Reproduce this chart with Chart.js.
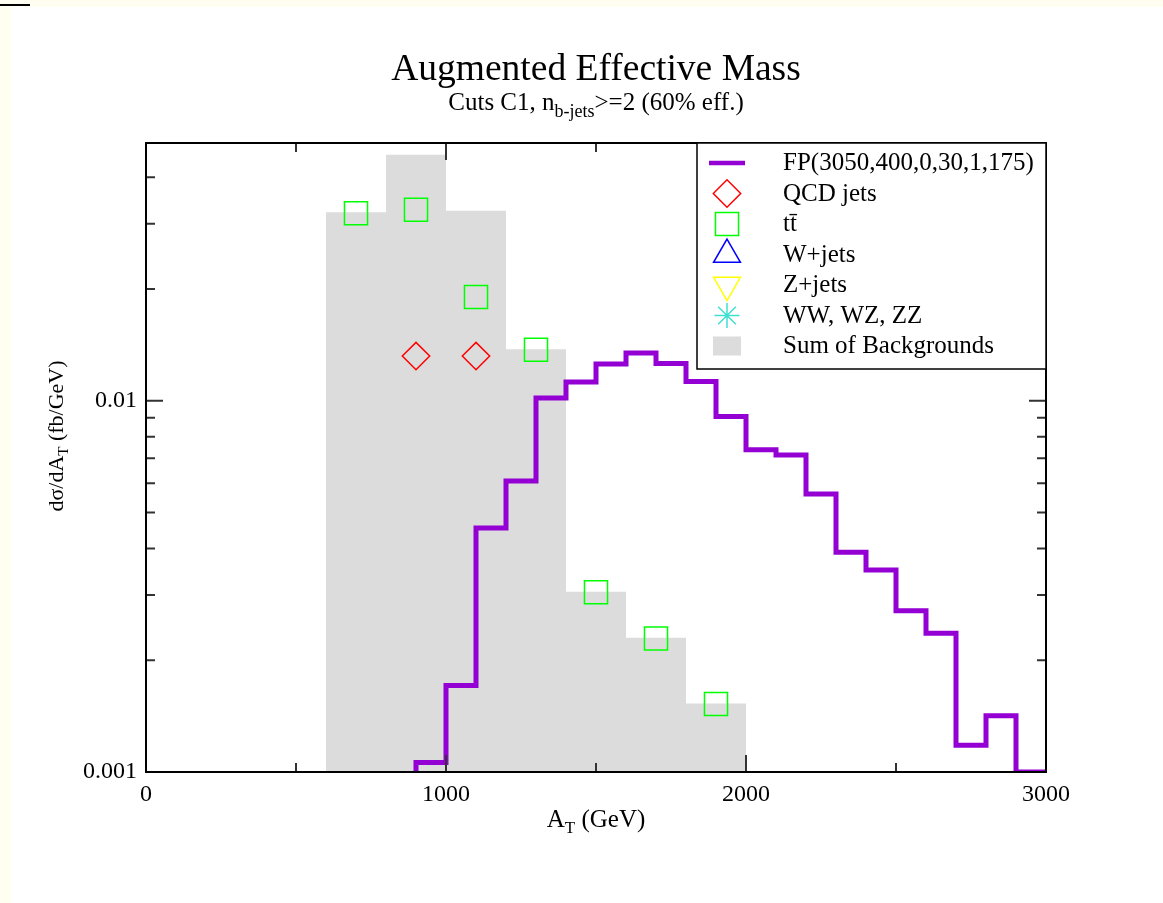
<!DOCTYPE html>
<html lang="en">
  <head>
    <meta charset="UTF-8" />
    <title>Augmented Effective Mass</title>
    <script src="https://cdn.jsdelivr.net/npm/chart.js"></script>
    <style>
      html,
      body {
        margin: 0;
        padding: 0;
      }
      body {
        width: 1163px;
        height: 903px;
        position: relative;
        overflow: hidden;
        background: #fffef0;
      }
      .sheet {
        position: absolute;
        left: 11px;
        top: 7px;
        right: 0;
        bottom: 0;
        background: #fff;
      }
      .mark {
        position: absolute;
        left: 0;
        top: 4px;
        width: 30px;
        height: 2px;
        background: #000;
      }
      canvas {
        position: absolute;
        left: 0;
        top: 0;
      }
    </style>
  </head>

  <body>
    <div class="sheet"></div>
    <div class="mark"></div>
    <canvas id="chart" width="1163" height="903"></canvas>

    <script>
      const titleText = "Augmented Effective Mass";
      const subtitleParts = ["Cuts C1, n", "b-jets", ">=2 (60% eff.)"];
      const xTitleParts = ["A", "T", " (GeV)"];
      const yTitleParts = ["dσ/dA", "T", " (fb/GeV)"];

      // signal, 100 GeV bins (left edges)
      const sigBinLow = [900, 1000, 1100, 1200, 1300, 1400, 1500, 1600, 1700, 1800, 1900,
        2000, 2100, 2200, 2300, 2400, 2500, 2600, 2700, 2800, 2900];
      const sigBinHigh = 3000;
      const sigValues = [0.00106, 0.00171, 0.00454, 0.00608, 0.01017, 0.01123, 0.01256,
        0.01345, 0.0126, 0.01127, 0.00907, 0.00738, 0.00715, 0.00561, 0.00391, 0.0035,
        0.00272, 0.002365, 0.00118, 0.001418, 0.001];

      // sum of backgrounds, 200 GeV bins (left edges)
      const bgBinLow = [600, 800, 1000, 1200, 1400, 1600, 1800];
      const bgBinHigh = 2000;
      const bgValues = [0.0322, 0.046, 0.0325, 0.01377, 0.00306, 0.0023, 0.00153];

      const ttMass = [700, 900, 1100, 1300, 1500, 1700, 1900];
      const ttValues = [0.032, 0.0327, 0.01904, 0.01372, 0.00305, 0.002288, 0.001525];

      const qcdMass = [900, 1100];
      const qcdValues = [0.0132, 0.0132];

      const xLabels = [0, 1000, 2000, 3000];
      const yLabels = ["0.001", "0.01"];

      const serif = '"Liberation Serif", "DejaVu Serif", serif';

      function stepPoints(lows, high, values, floor) {
        const pts = [];
        if (floor !== undefined) pts.push({ x: lows[0], y: floor });
        lows.forEach((x, i) => pts.push({ x: x, y: values[i] }));
        pts.push({ x: high, y: values[values.length - 1] });
        return pts;
      }

      const toPoints = (xs, ys) => xs.map((x, i) => ({ x: x, y: ys[i] }));

      function drawParts(ctx, parts, x, y, size, subSize, subDrop) {
        const widths = parts.map((p, i) => {
          ctx.font = (i === 1 ? subSize : size) + "px " + serif;
          return ctx.measureText(p).width;
        });
        let cx = x - widths.reduce((a, b) => a + b, 0) / 2;
        parts.forEach((p, i) => {
          ctx.font = (i === 1 ? subSize : size) + "px " + serif;
          ctx.fillText(p, cx, i === 1 ? y + subDrop : y);
          cx += widths[i];
        });
      }

      const isDecade = (v) => Math.abs(Math.log10(v) - Math.round(Math.log10(v))) < 1e-6;
      const isWhole = (v) => {
        const m = v / Math.pow(10, Math.floor(Math.log10(v) + 1e-9));
        return Math.abs(m - Math.round(m)) < 1e-6;
      };

      const decor = {
        id: "decor",
        afterDraw(chart) {
          const { ctx, chartArea: a, scales } = chart;
          const x = scales.x;
          const y = scales.y;
          ctx.save();

          // inward ticks on all four sides
          ctx.strokeStyle = "#333";
          ctx.lineWidth = 2;
          ctx.beginPath();
          x.ticks.forEach((t) => {
            const px = x.getPixelForValue(t.value);
            const len = t.value % 1000 === 0 ? 17 : 9;
            ctx.moveTo(px, a.bottom);
            ctx.lineTo(px, a.bottom - len);
            ctx.moveTo(px, a.top);
            ctx.lineTo(px, a.top + len);
          });
          y.ticks.forEach((t) => {
            if (!isWhole(t.value)) return;
            const py = y.getPixelForValue(t.value);
            const len = isDecade(t.value) ? 17 : 9;
            ctx.moveTo(a.left, py);
            ctx.lineTo(a.left + len, py);
            ctx.moveTo(a.right, py);
            ctx.lineTo(a.right - len, py);
          });
          ctx.stroke();

          // frame
          ctx.strokeStyle = "#000";
          ctx.lineWidth = 2;
          ctx.strokeRect(a.left, a.top, a.right - a.left, a.bottom - a.top);

          // legend
          const lx = 697;
          const ly = a.top;
          ctx.fillStyle = "#fff";
          ctx.fillRect(lx, ly, a.right - lx, 226);
          ctx.lineWidth = 1.5;
          ctx.strokeRect(lx, ly, a.right - lx, 226);

          const symX = 727;
          chart.data.datasets.forEach((ds, i) => {
            const base = 170 + i * 30.5;
            const cy = base - 7;
            ctx.save();
            if (ds.legendKind === "line") {
              ctx.strokeStyle = ds.borderColor;
              ctx.lineWidth = 4.5;
              ctx.beginPath();
              ctx.moveTo(symX - 18, cy);
              ctx.lineTo(symX + 18, cy);
              ctx.stroke();
            } else if (ds.legendKind === "box") {
              ctx.fillStyle = ds.backgroundColor;
              ctx.fillRect(symX - 14, cy - 9.5, 28, 19);
            } else {
              ctx.strokeStyle = ds.borderColor;
              ctx.fillStyle = "rgba(0,0,0,0)";
              ctx.lineWidth = ds.borderWidth;
              Chart.helpers.drawPoint(ctx, {
                pointStyle: ds.pointStyle,
                rotation: ds.rotation || 0,
                radius: ds.pointRadius,
                borderWidth: ds.borderWidth,
              }, symX, cy);
            }
            ctx.restore();
            ctx.fillStyle = "#000";
            ctx.font = "25px " + serif;
            ctx.textAlign = "left";
            ctx.textBaseline = "alphabetic";
            ctx.fillText(ds.label, 783, base);
          });

          // titles
          ctx.fillStyle = "#000";
          ctx.textBaseline = "alphabetic";
          const cx = (a.left + a.right) / 2;
          ctx.font = "37.5px " + serif;
          ctx.textAlign = "center";
          ctx.fillText(titleText, cx, 80);
          ctx.textAlign = "left";
          drawParts(ctx, subtitleParts, cx, 110, 25, 18, 7);
          drawParts(ctx, xTitleParts, cx, 827, 25, 17, 6);

          ctx.translate(63, 436);
          ctx.rotate(-Math.PI / 2);
          drawParts(ctx, yTitleParts, 0, 0, 22, 15, 5);
          ctx.restore();
        },
      };

      new Chart(document.getElementById("chart"), {
        type: "scatter",
        data: {
          datasets: [
            {
              label: "FP(3050,400,0,30,1,175)",
              legendKind: "line",
              data: stepPoints(sigBinLow, sigBinHigh, sigValues, 0.001),
              showLine: true,
              stepped: true,
              borderColor: "#9400d3",
              borderWidth: 5,
              pointRadius: 0,
              fill: false,
              order: 2,
            },
            {
              label: "QCD jets",
              data: toPoints(qcdMass, qcdValues),
              pointStyle: "rectRot",
              pointRadius: 13.7,
              borderColor: "#ff0000",
              backgroundColor: "rgba(0,0,0,0)",
              borderWidth: 1.5,
              order: 1,
            },
            {
              label: "tt\u0304",
              data: toPoints(ttMass, ttValues),
              pointStyle: "rect",
              pointRadius: 16.3,
              borderColor: "#00ff00",
              backgroundColor: "rgba(0,0,0,0)",
              borderWidth: 1.5,
              order: 1,
            },
            {
              label: "W+jets",
              data: [],
              pointStyle: "triangle",
              pointRadius: 15.5,
              borderColor: "#0000ff",
              backgroundColor: "rgba(0,0,0,0)",
              borderWidth: 1.5,
              order: 1,
            },
            {
              label: "Z+jets",
              data: [],
              pointStyle: "triangle",
              rotation: 180,
              pointRadius: 15.5,
              borderColor: "#ffff00",
              backgroundColor: "rgba(0,0,0,0)",
              borderWidth: 1.5,
              order: 1,
            },
            {
              label: "WW, WZ, ZZ",
              data: [],
              pointStyle: "star",
              pointRadius: 12.5,
              borderColor: "#40e0d0",
              backgroundColor: "rgba(0,0,0,0)",
              borderWidth: 1.5,
              order: 1,
            },
            {
              label: "Sum of Backgrounds",
              legendKind: "box",
              data: stepPoints(bgBinLow, bgBinHigh, bgValues),
              showLine: true,
              stepped: true,
              borderWidth: 0,
              borderColor: "rgba(0,0,0,0)",
              backgroundColor: "#dcdcdc",
              pointRadius: 0,
              fill: "start",
              order: 3,
            },
          ],
        },
        options: {
          responsive: false,
          animation: false,
          events: [],
          layout: { padding: { top: 143, right: 117, left: 0, bottom: 0 } },
          plugins: {
            legend: { display: false },
            tooltip: { enabled: false },
          },
          scales: {
            x: {
              type: "linear",
              min: 0,
              max: 3000,
              afterFit: (s) => {
                s.height = 131;
              },
              grid: { display: false, drawTicks: false },
              border: { display: false },
              ticks: {
                stepSize: 500,
                autoSkip: false,
                maxRotation: 0,
                padding: 8,
                color: "#000",
                font: { family: serif, size: 24 },
                callback: (v) => (xLabels.includes(v) ? String(v) : ""),
              },
            },
            y: {
              type: "logarithmic",
              min: 0.001,
              max: 0.0495,
              afterFit: (s) => {
                s.width = 146;
              },
              grid: { display: false, drawTicks: false },
              border: { display: false },
              ticks: {
                autoSkip: false,
                padding: 9,
                color: "#000",
                font: { family: serif, size: 24 },
                callback: (v) => {
                  const hit = yLabels.find((t) => Math.abs(v / parseFloat(t) - 1) < 1e-6);
                  return hit || "";
                },
              },
            },
          },
        },
        plugins: [decor],
      });
    </script>
  </body>
</html>
